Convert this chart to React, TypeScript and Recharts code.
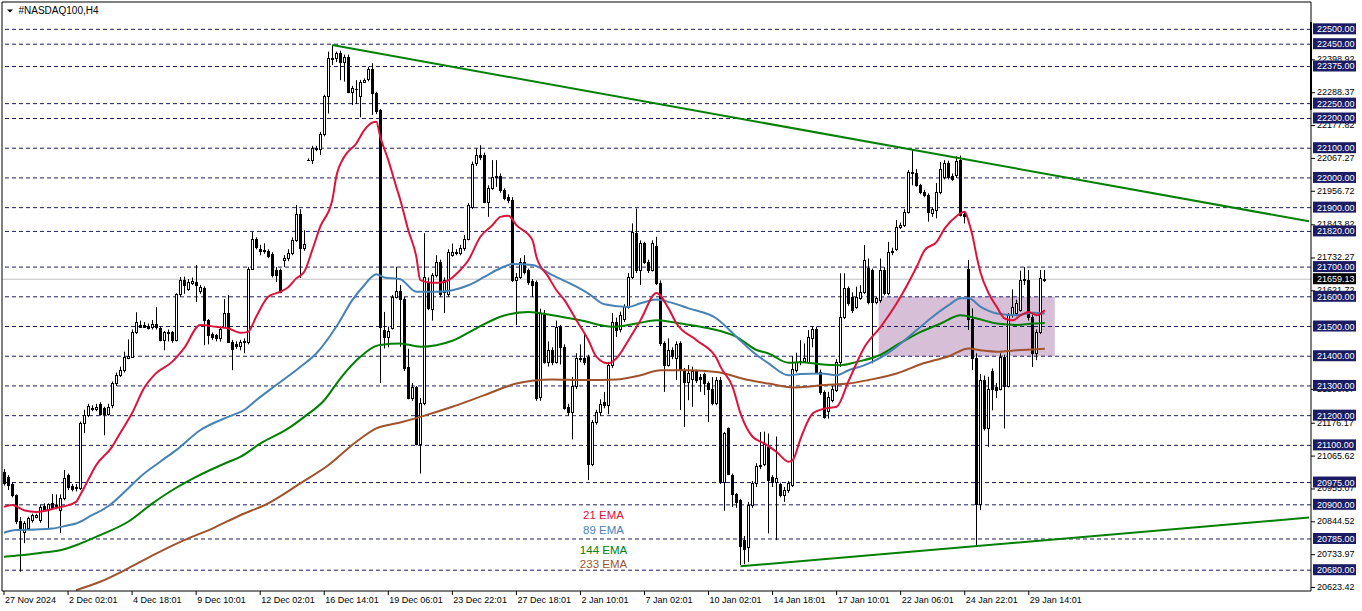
import React from 'react';
import { ComposedChart, Bar, Line, XAxis, YAxis, ReferenceLine, ReferenceArea } from 'recharts';

const FONT = '"Liberation Sans", Arial, sans-serif';
const W = 1362;
const H = 611;
const SLOTS = 327;
const PMIN = 20610;
const PMAX = 22592;

// [open, high, low, close] per H4 candle
const ohlc: number[][] = [
  [21010,21020,20965,20975],[20993,21000,20950,20966],[20970,20975,20925,20932],[20932,20935,20835,20845],[20845,20859,20675,20815],
  [20809,20845,20771,20838],[20821,20860,20815,20855],[20848,20870,20840,20865],[20860,20870,20855,20865],[20848,20900,20840,20893],
  [20895,20905,20880,20885],[20885,20905,20821,20902],[20905,20936,20885,20890],[20895,20935,20885,20900],[20882,20935,20805,20923],
  [20923,21017,20915,20990],[21000,21005,20950,20960],[20962,20970,20945,20952],[20955,20970,20945,20960],[20956,21180,20950,21175],
  [21175,21220,21141,21202],[21202,21240,21195,21232],[21225,21235,21215,21222],[21222,21240,21215,21228],[21240,21245,21200,21205],
  [21225,21230,21134,21205],[21205,21240,21200,21228],[21235,21315,21225,21310],[21309,21345,21300,21336],[21336,21365,21330,21353],
  [21353,21415,21345,21398],[21395,21457,21390,21400],[21398,21490,21395,21481],[21481,21548,21475,21516],[21505,21520,21495,21500],
  [21505,21515,21495,21498],[21503,21510,21490,21495],[21498,21522,21490,21510],[21510,21565,21490,21498],[21494,21500,21450,21455],
  [21455,21485,21420,21480],[21478,21490,21450,21480],[21480,21485,21445,21453],[21454,21612,21450,21608],[21608,21667,21600,21656],
  [21656,21668,21610,21640],[21625,21660,21620,21650],[21648,21665,21640,21652],[21650,21707,21583,21640],[21620,21640,21610,21632],
  [21630,21635,21437,21522],[21522,21525,21440,21472],[21475,21480,21455,21466],[21470,21475,21450,21460],[21460,21500,21449,21493],
  [21499,21592,21495,21546],[21546,21606,21445,21449],[21449,21455,21353,21423],[21440,21450,21425,21436],[21436,21455,21420,21447],
  [21447,21460,21410,21450],[21447,21700,21440,21695],[21695,21818,21690,21793],[21793,21800,21760,21766],[21760,21775,21740,21755],
  [21755,21780,21745,21758],[21755,21760,21730,21737],[21744,21750,21665,21673],[21690,21700,21650,21673],[21690,21695,21612,21617],
  [21725,21740,21700,21730],[21729,21760,21720,21747],[21747,21800,21740,21791],[21791,21909,21785,21879],[21879,21895,21663,21763],
  [21763,21824,21755,21777],[22062,22066,22058,22062],[22060,22108,22047,22101],[22098,22108,22090,22101],[22097,22155,22077,22147],
  [22147,22280,22140,22276],[22276,22425,22217,22402],[22400,22447,22380,22405],[22402,22425,22390,22419],[22419,22428,22329,22391],
  [22391,22415,22324,22408],[22408,22415,22285,22288],[22288,22310,22245,22301],[22300,22329,22249,22298],[22276,22330,22204,22324],
  [22324,22335,22320,22330],[22333,22374,22325,22366],[22366,22386,22212,22285],[22285,22290,22215,22226],[22228,22232,21310,21499],
  [21488,21549,21426,21465],[21465,21500,21430,21485],[21494,21606,21490,21600],[21600,21701,21595,21621],[21621,21640,21432,21592],
  [21592,21600,21350,21360],[21365,21425,21255,21260],[21260,21310,21250,21297],[21297,21300,21100,21106],[21106,21260,21005,21241],
  [21241,21814,21235,21667],[21650,21665,21555,21561],[21560,21680,21520,21673],[21673,21740,21665,21718],[21718,21725,21600,21611],
  [21617,21665,21545,21656],[21611,21760,21600,21752],[21742,21779,21735,21752],[21750,21760,21740,21747],[21748,21775,21740,21764],
  [21763,21808,21755,21793],[21796,21915,21790,21909],[21903,22055,21895,22047],[22051,22099,22040,22077],[22077,22110,22060,22072],
  [22077,22085,21915,21920],[21920,21975,21869,21965],[21965,22060,21960,22004],[22004,22060,21970,22008],[22008,22015,21950,21959],
  [21959,21965,21925,21931],[21935,21945,21915,21925],[21925,21935,21650,21656],[21656,21680,21505,21667],[21667,21730,21660,21718],
  [21718,21740,21675,21684],[21690,21695,21640,21650],[21652,21660,21600,21640],[21650,21655,21250,21260],[21262,21560,21250,21545],
  [21545,21555,21375,21380],[21381,21450,21365,21421],[21421,21430,21370,21381],[21381,21520,21375,21498],[21498,21505,21372,21431],
  [21431,21440,21220,21226],[21229,21240,21200,21212],[21212,21330,21120,21300],[21300,21410,21290,21395],[21395,21440,21380,21390],
  [21395,21480,21370,21380],[21398,21405,20983,21039],[21039,21185,21030,21179],[21179,21220,21170,21213],[21213,21255,21200,21240],
  [21245,21280,21225,21235],[21235,21380,21205,21370],[21370,21545,21360,21516],[21516,21530,21465,21488],[21490,21550,21480,21538],
  [21525,21575,21515,21570],[21566,21680,21560,21667],[21667,21847,21660,21819],[21813,21897,21680,21690],[21690,21790,21640,21780],
  [21780,21785,21710,21718],[21718,21725,21680,21690],[21690,21790,21685,21780],[21771,21802,21640,21647],[21647,21655,21435,21443],
  [21443,21450,21280,21370],[21370,21460,21365,21420],[21420,21430,21390,21400],[21395,21450,21320,21440],[21443,21450,21219,21353],
  [21353,21360,21162,21314],[21314,21370,21252,21345],[21325,21365,21230,21350],[21350,21355,21310,21320],[21330,21340,21280,21325],
  [21340,21345,21270,21310],[21310,21315,21179,21290],[21290,21330,21235,21243],[21243,21330,21235,21320],[21320,21330,20970,20977],
  [20977,21145,20880,21140],[21157,21160,21000,21005],[21000,21005,20893,20935],[20935,20940,20890,20910],[20916,20920,20697,20760],
  [20780,20795,20700,20750],[20758,20910,20708,20899],[20899,20980,20890,20972],[20972,21040,20960,21030],[21030,21145,21020,21035],
  [21039,21146,21030,21106],[21095,21140,20804,20983],[20995,21000,20960,20977],[20977,21130,20781,20990],[20970,20975,20925,20932],
  [20932,20960,20910,20950],[20950,20980,20940,20972],[20966,21400,20960,21358],[21353,21412,21345,21381],[21381,21454,21370,21385],
  [21385,21443,21380,21393],[21381,21488,21375,21465],[21460,21500,21430,21490],[21490,21500,21340,21347],[21347,21355,21270,21280],
  [21280,21285,21190,21196],[21216,21280,21190,21264],[21252,21300,21245,21289],[21288,21390,21280,21381],[21381,21679,21364,21533],
  [21533,21679,21525,21628],[21628,21635,21570,21578],[21600,21615,21545,21555],[21566,21634,21560,21600],[21595,21639,21590,21617],
  [21617,21774,21610,21724],[21696,21729,21575,21583],[21690,21695,21376,21583],[21583,21600,21575,21595],[21589,21729,21580,21690],
  [21690,21700,21605,21613],[21613,21785,21605,21752],[21750,21765,21740,21755],[21760,21858,21755,21836],[21834,21850,21828,21841],
  [21841,21895,21835,21887],[21887,22026,21880,22021],[22021,22094,21975,22015],[22015,22030,21970,21975],[21975,21980,21945,21953],
  [21953,21960,21935,21942],[21942,21948,21853,21887],[21883,21900,21869,21894],[21892,21983,21864,21953],[21953,22054,21945,22029],
  [22004,22060,21995,22051],[22051,22058,21995,22004],[22006,22015,21990,21998],[22009,22073,22000,22058],[22062,22075,21870,21875],
  [21880,21885,21847,21872],[21692,21724,21488,21524],[21524,21561,21353,21393],[21393,21410,20764,20902],[20902,21340,20882,21320],
  [21320,21335,21150,21157],[21157,21331,21095,21289],[21350,21359,21218,21289],[21295,21310,21260,21285],[21289,21410,21285,21399],
  [21399,21405,21157,21300],[21300,21545,21295,21539],[21539,21625,21530,21564],[21545,21590,21535,21580],[21555,21688,21550,21658],
  [21655,21700,21640,21660],[21658,21690,21520,21531],[21531,21540,21364,21412],[21412,21490,21387,21480],[21480,21690,21475,21662],
  [21655,21690,21650,21659.13],
];

// EMA readings: [candle index, value]
const ema21: number[][] = [
  [0,20893],[2,20899],[5,20882],[8,20876],[10,20879],[13,20889],[15,20895],[18,20910],[19,20932],[21,20983],[23,21033],[27,21095],
  [29,21141],[32,21209],[35,21293],[38,21343],[42,21381],[45,21427],[49,21505],[53,21499],[56,21494],[59,21479],[61,21482],[63,21533],
  [66,21600],[69,21617],[71,21632],[73,21662],[75,21684],[77,21757],[79,21836],[82,21925],[83,22004],[85,22071],[88,22116],[90,22161],
  [92,22186],[93,22189],[94,22138],[96,22060],[98,21970],[99,21926],[101,21824],[103,21735],[104,21656],[107,21647],[110,21650],
  [114,21690],[116,21723],[119,21802],[122,21841],[124,21869],[126,21873],[128,21841],[132,21791],[133,21735],[136,21667],[138,21622],
  [140,21589],[143,21521],[146,21454],[148,21398],[151,21376],[153,21393],[156,21454],[159,21521],[163,21613],[166,21561],[168,21510],
  [173,21454],[178,21393],[179,21364],[182,21297],[184,21207],[187,21129],[190,21106],[193,21078],[196,21045],[197,21050],[199,21123],
  [202,21207],[205,21224],[208,21230],[211,21317],[215,21432],[219,21499],[223,21578],[228,21701],[230,21757],[233,21785],[235,21830],
  [238,21872],[240,21886],[241,21852],[242,21802],[243,21735],[244,21679],[246,21611],[248,21566],[250,21527],[252,21521],[254,21538],
  [256,21549],[258,21538],[260,21555],
];
const ema89: number[][] = [
  [0,20806],[3,20815],[8,20817],[12,20820],[16,20831],[18,20837],[22,20865],[26,20895],[31,20955],[34,20994],[39,21045],[43,21084],
  [49,21151],[56,21196],[60,21219],[63,21252],[68,21303],[74,21364],[78,21409],[83,21499],[87,21589],[90,21639],[93,21676],[95,21665],
  [99,21659],[103,21617],[108,21617],[112,21622],[116,21639],[120,21667],[124,21696],[127,21710],[132,21707],[137,21673],[143,21634],
  [146,21611],[150,21575],[156,21566],[159,21578],[163,21591],[166,21583],[171,21561],[178,21527],[183,21465],[187,21415],[191,21376],
  [196,21336],[199,21340],[204,21342],[208,21336],[211,21353],[215,21370],[219,21395],[223,21432],[228,21488],[232,21533],[236,21572],
  [239,21595],[241,21595],[244,21566],[248,21544],[253,21538],[257,21546],[260,21544],
];
const ema144: number[][] = [
  [0,20725],[4,20730],[9,20738],[14,20747],[18,20764],[24,20798],[31,20843],[37,20904],[42,20949],[48,20994],[56,21044],[59,21061],
  [64,21106],[71,21157],[75,21196],[80,21252],[84,21325],[89,21398],[93,21435],[94,21438],[99,21443],[104,21432],[112,21452],[118,21494],
  [124,21533],[131,21549],[137,21538],[144,21521],[152,21499],[158,21510],[163,21521],[169,21510],[176,21494],[183,21465],[188,21421],
  [191,21409],[196,21378],[199,21380],[204,21373],[209,21370],[213,21381],[219,21405],[223,21437],[229,21482],[234,21510],[239,21538],
  [243,21527],[248,21510],[253,21505],[257,21510],[260,21512],
];
const ema233: number[][] = [
  [18,20613],[24,20641],[31,20686],[38,20736],[45,20781],[52,20820],[59,20865],[66,20905],[74,20972],[81,21033],[88,21112],[93,21157],
  [99,21177],[104,21196],[112,21230],[120,21269],[128,21308],[137,21322],[145,21320],[153,21322],[159,21336],[164,21353],[171,21353],
  [178,21347],[186,21320],[191,21308],[197,21295],[199,21296],[205,21303],[211,21308],[216,21320],[223,21342],[229,21373],[236,21400],
  [241,21426],[244,21420],[248,21415],[253,21420],[257,21423],[260,21425],
];

const levels = [22500,22450,22375,22250,22200,22100,22000,21900,21820,21700,21600,21500,21400,21300,21200,21100,20975,20900,20785,20680];
const priceTicks = [22398.92,22288.37,22177.82,22067.27,21956.72,21843.82,21732.27,21621.72,21290.07,21176.17,21065.62,20955.07,20844.52,20733.97,20623.42];
const bid = 21659.13;
const timeTicks = [0,16,32,48,64,80,96,112,128,144,160,176,192,208,224,240,256];
const timeLabels = ['27 Nov 2024','2 Dec 02:01','4 Dec 18:01','9 Dec 10:01','12 Dec 02:01','16 Dec 14:01','19 Dec 06:01','23 Dec 22:01','27 Dec 18:01','2 Jan 10:01','7 Jan 02:01','10 Jan 02:01','14 Jan 18:01','17 Jan 10:01','22 Jan 06:01','24 Jan 22:01','29 Jan 14:01'];
const upperTrend = [[82,22447],[326,21854]];
const lowerTrend = [[184,20693],[326,20857]];
const zoneX = [219,262];
const zoneY = [21400,21600];
const emaLegend = [['21 EMA','#DC143C'],['89 EMA','#4682B4'],['144 EMA','#008000'],['233 EMA','#A0522D']];

const rows: any[] = Array.from({ length: SLOTS }, (_, i) => {
  const r: any = { i };
  const c = ohlc[i];
  if (c) {
    r.o = c[0]; r.h = c[1]; r.l = c[2]; r.c = c[3];
    r.range = [c[2], c[1]];
  }
  return r;
});
const put = (pts: number[][], key: string) => pts.forEach(([i, v]) => { rows[i][key] = v; });
put(ema21, 'e21');
put(ema89, 'e89');
put(ema144, 'e144');
put(ema233, 'e233');

const yTicks = [...priceTicks, ...levels, bid];

const Candle = (props: any) => {
  const { x, y, width, height, payload } = props;
  if (!payload || payload.o == null || x == null || y == null) return null;
  const top = Math.min(y, y + height);
  const bot = Math.max(y, y + height);
  const { o, h, l, c } = payload;
  const k = h > l ? (bot - top) / (h - l) : 0;
  const yOf = (p: number) => top + (h - p) * k;
  const cx = Math.round(x + width / 2) - 0.5;
  const bTop = Math.round(yOf(Math.max(o, c)));
  const bBot = Math.round(yOf(Math.min(o, c)));
  const bull = c >= o;
  return (
    <g>
      <line x1={cx} x2={cx} y1={top} y2={bot} stroke="#000" strokeWidth={1} />
      {bBot - bTop < 1 ? (
        <line x1={cx - 1.5} x2={cx + 1.5} y1={bTop + 0.5} y2={bTop + 0.5} stroke="#000" strokeWidth={1} />
      ) : (
        <rect x={cx - 1} y={bTop + 0.5} width={2} height={bBot - bTop} fill={bull ? '#fff' : '#000'} stroke="#000" strokeWidth={1} />
      )}
    </g>
  );
};

const XTick = (props: any) => {
  const { x, y, payload } = props;
  const idx = timeTicks.indexOf(payload.value);
  if (idx < 0) return null;
  return (
    <text x={x + 1} y={y + 6} fontSize={9} fontFamily={FONT} fill="#000" textAnchor="start">{timeLabels[idx]}</text>
  );
};

const YTick = (props: any) => {
  const { x, y, payload } = props;
  const v = payload.value;
  const isLevel = levels.includes(v);
  const isBid = v === bid;
  if (isLevel || isBid) {
    return (
      <g>
        <rect x={x + 2} y={y - 6} width={43} height={11} fill={isBid ? '#000' : '#1c1c64'} />
        <text x={x + 6} y={y + 3} fontSize={9} fontFamily={FONT} fill="#fff" textAnchor="start">{v.toFixed(2)}</text>
      </g>
    );
  }
  return (
    <g>
      <line x1={x} x2={x + 4} y1={y + 0.5} y2={y + 0.5} stroke="#000" />
      <text x={x + 6} y={y + 3} fontSize={9} fontFamily={FONT} fill="#000" textAnchor="start">{v.toFixed(2)}</text>
    </g>
  );
};

export default function App() {
  return (
    <div style={{ position: 'absolute', left: 0, top: 0, width: W, height: H, background: '#fff', overflow: 'hidden' }}>
      <ComposedChart width={W} height={H} data={rows} margin={{ top: 2, right: 0, bottom: 0, left: 1 }}>
        <XAxis
          dataKey="i"
          type="category"
          ticks={timeTicks}
          interval={0}
          tick={(p: any) => <XTick {...p} />}
          tickSize={4}
          tickLine={{ stroke: '#000' }}
          axisLine={{ stroke: '#000' }}
          height={20}
        />
        <YAxis
          orientation="right"
          type="number"
          domain={[PMIN, PMAX]}
          allowDataOverflow
          ticks={yTicks}
          interval={0}
          tick={(p: any) => <YTick {...p} />}
          tickLine={false}
          tickSize={0}
          tickMargin={0}
          axisLine={{ stroke: '#000' }}
          width={51}
        />
        <YAxis
          yAxisId="frame"
          orientation="left"
          type="number"
          domain={[0, 1]}
          width={1}
          tick={false}
          tickLine={false}
          axisLine={{ stroke: '#000' }}
        />
        <ReferenceArea
          x1={zoneX[0]}
          x2={zoneX[1]}
          y1={zoneY[0]}
          y2={zoneY[1]}
          fill="#D8BFD8"
          fillOpacity={1}
          stroke="none"
          zIndex={40}
        />
        {levels.map((lv) => (
          <ReferenceLine key={lv} y={lv} stroke="#1c1c64" strokeDasharray="4 3" strokeWidth={1} zIndex={50} />
        ))}
        <ReferenceLine y={bid} stroke="#c0c0c0" strokeWidth={1} zIndex={50} />
        <ReferenceLine y={PMAX} stroke="#000" strokeWidth={1} zIndex={50} />
        <Bar dataKey="range" barSize={3} shape={(p: any) => <Candle {...p} />} isAnimationActive={false} />
        <Line dataKey="e233" type="monotone" stroke="#A0522D" strokeWidth={2} dot={false} activeDot={false} connectNulls isAnimationActive={false} />
        <Line dataKey="e144" type="monotone" stroke="#008000" strokeWidth={2} dot={false} activeDot={false} connectNulls isAnimationActive={false} />
        <Line dataKey="e89" type="monotone" stroke="#4682B4" strokeWidth={2} dot={false} activeDot={false} connectNulls isAnimationActive={false} />
        <Line dataKey="e21" type="monotone" stroke="#DC143C" strokeWidth={2} dot={false} activeDot={false} connectNulls isAnimationActive={false} />
        <ReferenceLine
          segment={[{ x: upperTrend[0][0], y: upperTrend[0][1] }, { x: upperTrend[1][0], y: upperTrend[1][1] }]}
          stroke="#008000"
          strokeWidth={2}
          zIndex={450}
        />
        <ReferenceLine
          segment={[{ x: lowerTrend[0][0], y: lowerTrend[0][1] }, { x: lowerTrend[1][0], y: lowerTrend[1][1] }]}
          stroke="#008000"
          strokeWidth={2}
          zIndex={450}
        />
      </ComposedChart>
      <svg width={W} height={H} style={{ position: 'absolute', left: 0, top: 0, pointerEvents: 'none' }}>
        <polygon points="7,9.5 13,9.5 10,12.5" fill="#000" />
        <text x={18.5} y={14} fontSize={10} fontFamily={FONT} fill="#000">#NASDAQ100,H4</text>
        <rect x={1310} y={22} width={2} height={88} fill="#000" />
        {emaLegend.map(([label, color], k) => (
          <text
            key={label}
            x={603.5}
            y={[519, 534, 554, 568][k]}
            fontSize={11.5}
            fontFamily={FONT}
            fill={color}
            textAnchor="middle"
          >
            {label}
          </text>
        ))}
      </svg>
    </div>
  );
}
